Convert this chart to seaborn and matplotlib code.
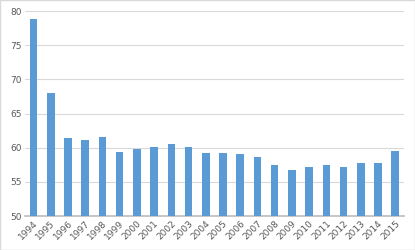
import matplotlib
matplotlib.use("Agg")
import matplotlib.pyplot as plt
import seaborn as sns
import pandas as pd

years = [str(y) for y in range(1994, 2016)]
values = [78.8, 68.0, 61.35, 61.05, 61.5, 59.3, 59.75, 60.1, 60.5, 60.05, 59.2,
          59.2, 59.1, 58.7, 57.45, 56.7, 57.1, 57.4, 57.1, 57.7, 57.7, 59.5]
yticks = [50, 55, 60, 65, 70, 75, 80]

df = pd.DataFrame({"year": years, "value": values})

sns.set_theme(style="white")
plt.rcParams["font.family"] = ["DejaVu Sans"]

fig = plt.figure(figsize=(4.15, 2.5), dpi=100)
ax = fig.add_axes([0.060, 0.136, 0.913, 0.82])

sns.barplot(data=df, x="year", y="value", color="#5B9BD5", width=0.44,
            saturation=1, ax=ax, zorder=3, linewidth=0)

ax.set_xlim(-0.5, len(years) - 0.5)
ax.set_ylim(50, 80)
ax.set_yticks(yticks)
ax.yaxis.grid(True, color="#D9D9D9", linewidth=0.8, zorder=0)
ax.set_axisbelow(True)
for side in ["top", "right", "left"]:
    ax.spines[side].set_visible(False)
ax.spines["bottom"].set_color("#BFBFBF")
ax.set_xlabel("")
ax.set_ylabel("")
ax.tick_params(axis="both", length=0, labelsize=6.5, labelcolor="#595959", pad=2)
plt.setp(ax.get_xticklabels(), rotation=45, ha="right", rotation_mode="anchor")

fig.patches.append(plt.Rectangle((0, 0), 1, 1, transform=fig.transFigure,
                                 fill=False, edgecolor="#D9D9D9", linewidth=1))

fig.savefig("out.png", dpi=100)
